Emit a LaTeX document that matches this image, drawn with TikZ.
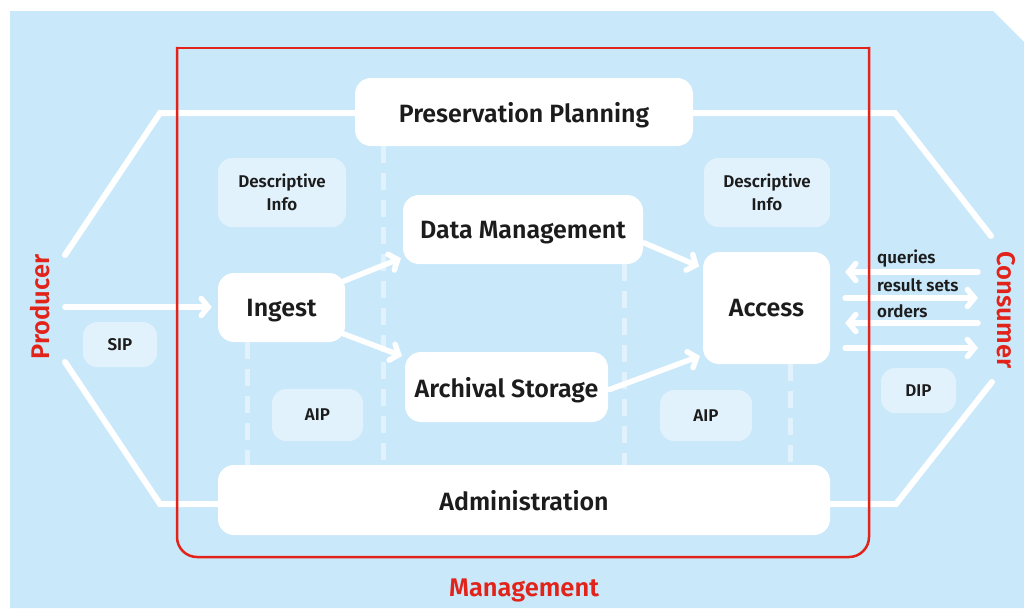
\documentclass[tikz,border=0pt]{standalone}
\usepackage{fontspec}
\setmainfont{Fira Sans}[BoldFont={Fira Sans SemiBold}]
\usetikzlibrary{arrows.meta}
\definecolor{oaisbg}{HTML}{C9E8FA}
\definecolor{oaislight}{HTML}{E1F2FC}
\definecolor{oaisred}{HTML}{E2231A}
\definecolor{oaisink}{HTML}{1C1C1C}
\tikzset{
  block/.style={fill=white, rounded corners=16pt, text=oaisink, inner sep=0pt,
    text depth=0pt, font=\bfseries\fontsize{25}{29}\selectfont},
  info/.style={fill=oaislight, rounded corners=14pt, text=oaisink, inner sep=0pt,
    align=center, font=\bfseries\fontsize{17}{23}\selectfont},
  flow/.style={white, line width=5.5pt, line cap=round,
    -{Straight Barb[length=7pt,width=17pt,line cap=round]}},
  frame/.style={white, line width=6pt, line cap=round},
  sep/.style={oaislight, line width=5pt, dash pattern=on 17pt off 10pt},
  actor/.style={oaisred, font=\bfseries\fontsize{25.5}{29}\selectfont},
  tag/.style={text=oaisink, anchor=west, inner sep=0pt,
    font=\bfseries\fontsize{17}{20}\selectfont}
}
\begin{document}
\begin{tikzpicture}[x=1pt, y=-1pt]
\useasboundingbox (0,0) rectangle (1024,608);
\fill[oaisbg] (10,11) -- (993,11) -- (1024,42) -- (1024,608) -- (10,608) -- cycle;
% outer frame corners
\coordinate (ptop) at (65,255);
\coordinate (pbot) at (65,362);
\coordinate (ctop) at (991,236);
\coordinate (cbot) at (992,382);
\draw[frame] (ptop) -- (160,113) -- (895,113) -- (ctop);
\draw[frame] (pbot) -- (160,504) -- (896,504) -- (cbot);
% functional entities
\node[block, minimum width=338pt, minimum height=68pt] (plan) at (524,112) {Preservation Planning};
\node[block, minimum width=612pt, minimum height=70pt] (admin) at (524,500) {Administration};
\node[block, minimum width=240pt, minimum height=69pt] (data) at (523,229.5) {Data Management};
\node[block, minimum width=127pt, minimum height=69pt] (ingest) at (281.5,307.5) {Ingest};
\node[block, minimum width=203pt, minimum height=70pt] (store) at (506.5,387) {Archival Storage};
\node[block, minimum width=127pt, minimum height=112pt] (access) at (766.5,308) {Access};
\draw[sep] ([xshift=30pt]ingest.south west) -- ([xshift=30pt]ingest.south west |- admin.north);
\draw[sep] ([xshift=29pt]plan.south west) -- ([xshift=29pt]plan.south west |- admin.north);
\draw[sep] ([xshift=-19pt]data.south east) -- ([xshift=-19pt]data.south east |- admin.north);
\draw[sep] ([xshift=-40pt]access.south east) -- ([xshift=-40pt]access.south east |- admin.north);
% information packages
\node[info, minimum width=128pt, minimum height=69pt] (descl) at (282,192.5) {Descriptive\\Info};
\node[info, minimum width=126pt, minimum height=69pt] (descr) at (767,192.5) {Descriptive\\Info};
\node[info, minimum width=91pt, minimum height=52pt] (aipl) at (317.5,415) {AIP};
\node[info, minimum width=92pt, minimum height=51pt] (aipr) at (706,415.5) {AIP};
\node[info, minimum width=74pt, minimum height=45pt] (sip) at (120,344.5) {SIP};
\node[info, minimum width=75pt, minimum height=45pt] (dip) at (918.5,390.5) {DIP};
% flows
\coordinate (pin) at (65,307);
\draw[flow, shorten >=6pt] (pin) -- (pin -| ingest.west);
\draw[flow, shorten <=-2pt, shorten >=2pt] ([yshift=27pt]ingest.east) -- ([yshift=-28pt]data.west);
\draw[flow, shorten <=-2pt, shorten >=3pt] ([yshift=-27pt]ingest.east) -- ([yshift=30pt]store.west);
\draw[flow, shorten <=1pt, shorten >=4pt] ([yshift=-13pt]data.east) -- ([yshift=40pt]access.west);
\draw[flow, shorten <=1pt, shorten >=3pt] ([yshift=-3pt]store.east) -- ([yshift=-47pt]access.west);
\foreach \y/\n in {272/1, 323/3} {
  \coordinate (cq\n) at (978,\y);
  \draw[flow, shorten >=15pt] (cq\n) -- (cq\n -| access.east);
}
\foreach \y/\n in {298/2, 348/4} {
  \coordinate (cq\n) at (978,\y);
  \draw[flow, shorten <=15pt] (cq\n -| access.east) -- (cq\n);
}
\node[tag] (lq) at (877,259) {queries};
\node[tag] (lr) at (877,285) {result sets};
\node[tag] (lo) at (877,311) {orders};
% actors
\draw[oaisred, line width=2.5pt, line cap=rect, rounded corners=20pt] (177,48) -- (177,557) -- (869,557) -- (869,48);
\draw[oaisred, line width=2.5pt, line cap=rect] (177,48) -- (869,48);
\node[actor, rotate=90] (prod) at (40,307) {Producer};
\node[actor, rotate=-90] (cons) at (1006,310) {Consumer};
\node[actor] (mgmt) at (524,590) {Management};
\end{tikzpicture}
\end{document}
